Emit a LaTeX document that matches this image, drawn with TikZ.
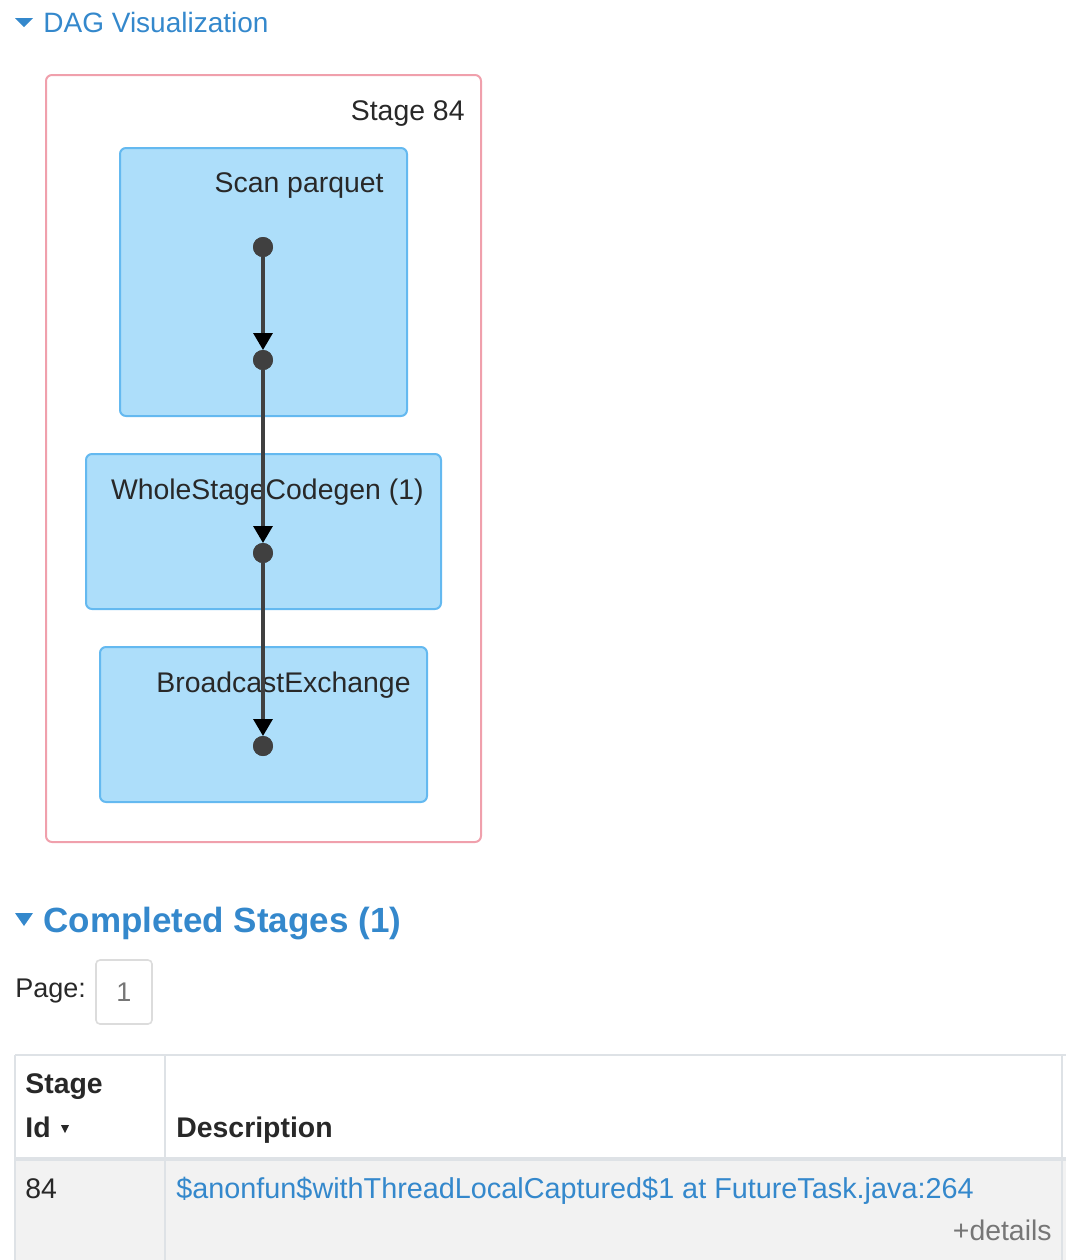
\documentclass[tikz,border=0pt]{standalone}
\usepackage{fontspec}
\setmainfont{Liberation Sans}
\usetikzlibrary{arrows.meta}
\usetikzlibrary{positioning}
\definecolor{headcol}{RGB}{52,136,204}
\definecolor{stagecol}{RGB}{240,160,172}
\definecolor{opfill}{RGB}{173,222,250}
\definecolor{opline}{RGB}{100,185,240}
\definecolor{dotcol}{RGB}{64,64,64}
\definecolor{textcol}{RGB}{40,40,40}
\definecolor{gridcol}{RGB}{222,226,230}
\definecolor{rowcol}{RGB}{242,242,242}
\definecolor{pagecol}{RGB}{220,220,220}
\definecolor{mutedcol}{RGB}{118,118,118}
\tikzset{
  stagebox/.style={draw=stagecol,line width=1pt,rounded corners=3pt,inner sep=0},
  opbox/.style={draw=opline,fill=opfill,line width=1pt,rounded corners=3pt,inner sep=0},
  oplabel/.style={anchor=base east,inner sep=0,text=textcol,font=\fontsize{14.2}{17}\selectfont},
  opdot/.style={circle,fill=dotcol,minimum size=10pt,inner sep=0,outer sep=0},
  flow/.style={-{Triangle[length=8.5pt,width=9.5pt,color=black]},line width=1.6pt,dotcol},
  heading/.style={anchor=base west,inner sep=0,text=headcol,font=\fontsize{14}{17}\selectfont},
  bigheading/.style={anchor=base west,inner sep=0,text=headcol,font=\bfseries\fontsize{17.5}{21}\selectfont},
  bodytext/.style={anchor=base west,inner sep=0,text=textcol,font=\fontsize{14.2}{17}\selectfont},
  headcell/.style={anchor=base west,inner sep=0,text=textcol,font=\bfseries\fontsize{14.2}{17}\selectfont},
  pagebox/.style={draw=pagecol,line width=0.8pt,rounded corners=2pt,inner sep=0,text=mutedcol,font=\fontsize{13.5}{16}\selectfont},
  gridline/.style={draw=gridcol,line width=1pt},
}

\begin{document}
\begin{tikzpicture}[x=0.5pt,y=-0.5pt]
  % --- Definitions ---
  \def\colX{263}     % x of the DAG column
  \def\tblL{15}      % table left edge
  \def\tblM{165}     % column divider
  \def\tblR{1062}    % table right edge
  \useasboundingbox (0,0) rectangle (1066,1260);

  % --- 1. DAG heading ---
  \fill[headcol] (15,18) -- (33,18) -- (24,27) -- cycle;
  \node[heading] (dagtitle) at (43,32) {DAG Visualization};

  % --- 2. Stage cluster and operator boxes ---
  \node[stagebox,minimum width=217.5pt,minimum height=383.5pt] (stage) at (263.5,458.5) {};
  \node[oplabel] (stagelbl) at (465,120) {Stage 84};

  \node[opbox,minimum width=143.5pt,minimum height=134pt] (scan) at (263.5,282) {};
  \node[oplabel] (scanlbl) at (384,192) {Scan parquet};

  \node[opbox,minimum width=177.5pt,minimum height=77.5pt] (wscg) at (263.5,531.5) {};
  \node[oplabel] (wscglbl) at (424,499) {WholeStageCodegen (1)};

  \node[opbox,minimum width=163.5pt,minimum height=77.5pt] (bcast) at (263.5,724.5) {};
  \node[oplabel] (bcastlbl) at (411,692) {BroadcastExchange};

  % --- 3. Dots and edges ---
  \foreach \n/\y in {d1/247, d2/360, d3/553, d4/746} {%
    \node[opdot] (\n) at (\colX,\y) {};
  }
  \foreach \a/\b in {d1/d2, d2/d3, d3/d4} {%
    \draw[flow] (\a) -- (\b);
  }
  \foreach \n/\y in {d1/247, d2/360, d3/553, d4/746} {%
    \fill[dotcol] (\n) circle (5pt);
  }

  % --- 4. Completed stages heading and pager ---
  \fill[headcol] (15,913) -- (33,913) -- (24,926) -- cycle;
  \node[bigheading] (donetitle) at (43,932) {Completed Stages (1)};
  \node[bodytext,font=\fontsize{13.5}{16}\selectfont] (pagelbl) at (15,997) {Page:};
  \node[pagebox,minimum width=28pt,minimum height=32pt] (page) at (124,992) {1};

  % --- 5. Table ---
  \fill[rowcol] (\tblL,1161) rectangle (1066,1260);
  \draw[gridline] (\tblL,1055) -- (1066,1055);
  \draw[gridline] (\tblL,1055) -- (\tblL,1260);
  \draw[gridline] (\tblM,1055) -- (\tblM,1260);
  \draw[gridline] (\tblR,1055) -- (\tblR,1260);
  \draw[gridline,line width=2pt] (\tblL,1159) -- (1066,1159);

  \node[headcell] (hstage) at (25,1093) {Stage};
  \node[headcell] (hid) at (25,1137) {Id};
  \fill[textcol] (61,1125) -- (69,1125) -- (65,1133) -- cycle;
  \node[headcell] (hdesc) at (176,1137) {Description};

  \node[bodytext] (rowid) at (25,1198) {84};
  \node[bodytext,text=headcol,font=\fontsize{14.4}{17}\selectfont] (rowdesc) at (176,1198) {\$anonfun\$withThreadLocalCaptured\$1 at FutureTask.java:264};
  \node[bodytext,anchor=base east,text=mutedcol] (rowmore) at (1052,1240) {+details};

\end{tikzpicture}
\end{document}
